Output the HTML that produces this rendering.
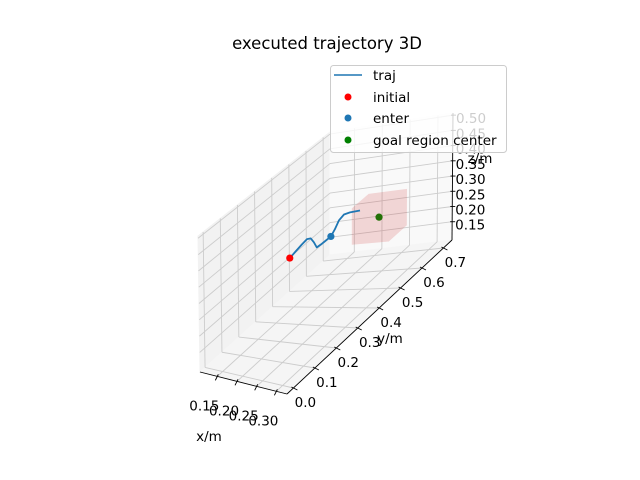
<!DOCTYPE html>
<html><head><meta charset="utf-8">
<style>
body{margin:0;background:#fff;}
svg{display:block;font-family:"DejaVu Sans","Liberation Sans",sans-serif;}
</style></head>
<body>
<svg id="chart" width="640" height="480" viewBox="0 0 640 480">
<rect x="0" y="0" width="640" height="480" fill="#fff"/>
<text x="327" y="49" font-size="16.5" text-anchor="middle" fill="#000">executed trajectory 3D</text>
<g id="panes"></g>
<g id="grid"></g>
<g id="axes"></g>
<g id="series"></g>
<text x="209" y="441" font-size="13.5" text-anchor="middle">x/m</text>
<text x="390" y="343" font-size="13.5" text-anchor="middle">y/m</text>
<text x="480" y="163" font-size="13.5" text-anchor="middle">z/m</text>
<g>
<rect x="330.5" y="65.5" width="176" height="87" rx="3" fill="rgba(255,255,255,0.8)" stroke="#cccccc"/>
<line x1="334" y1="75" x2="362" y2="75" stroke="#1f77b4" stroke-width="1.5"/>
<text x="373" y="80" font-size="13.5">traj</text>
<circle cx="348" cy="97" r="3.5" fill="red"/>
<text x="373" y="102" font-size="13.5">initial</text>
<circle cx="348" cy="118" r="3.5" fill="#1f77b4"/>
<text x="373" y="123" font-size="13.5">enter</text>
<circle cx="348" cy="140" r="3.5" fill="green"/>
<text x="373" y="145" font-size="13.5">goal region center</text>
</g>
</svg>
<script>
const xTicks=[0.15,0.20,0.25,0.30];
const yTicks=[0.0,0.1,0.2,0.3,0.4,0.5,0.6,0.7];
const zTicks=[0.15,0.20,0.25,0.30,0.35,0.40,0.45,0.50];
const xTickLabels=["0.15","0.20","0.25","0.30"];
const yTickLabels=["0.0","0.1","0.2","0.3","0.4","0.5","0.6","0.7"];
const zTickLabels=["0.15","0.20","0.25","0.30","0.35","0.40","0.45","0.50"];
const xRange=[0.106,0.327];
const yRange=[-0.03,0.74];
const zRange=[0.09,0.507];
const trajX=[0.22,0.22,0.22,0.22,0.22,0.22,0.22,0.22,0.22,0.22,0.22,0.22,0.22,0.22,0.22];
const trajY=[0.204,0.236,0.266,0.293,0.313,0.329,0.344,0.366,0.391,0.417,0.438,0.459,0.485,0.516,0.568];
const trajZ=[0.351,0.356,0.361,0.364,0.356,0.335,0.311,0.309,0.308,0.307,0.319,0.336,0.341,0.331,0.309];
const initialPt=[0.22,0.204,0.351];
const enterPt=[0.22,0.417,0.307];
const goalPt=[0.22,0.667,0.232];
const goalHalf=[0.035,0.045,0.06];

const C={p000:[200,372],p100:[287,394],p110:[452,240],p010:[330,255],
         p001:[198,236],p101:[288,254],p111:[453,113],p011:[330,132]};
function lerp(a,b,t){return [a[0]+(b[0]-a[0])*t,a[1]+(b[1]-a[1])*t];}
function PN(u,v,w){
  const b=lerp(lerp(C.p000,C.p100,u),lerp(C.p010,C.p110,u),v);
  const t=lerp(lerp(C.p001,C.p101,u),lerp(C.p011,C.p111,u),v);
  return lerp(b,t,w);
}
function nu(x){return (x-xRange[0])/(xRange[1]-xRange[0]);}
function nv(y){return (y-yRange[0])/(yRange[1]-yRange[0]);}
function nw(z){return (z-zRange[0])/(zRange[1]-zRange[0]);}
function P(x,y,z){return PN(nu(x),nv(y),nw(z));}
const NS="http://www.w3.org/2000/svg";
function mk(tag,attrs,parent){const e=document.createElementNS(NS,tag);for(const k in attrs)e.setAttribute(k,attrs[k]);parent.appendChild(e);return e;}
function pts(a){return a.map(p=>p[0].toFixed(1)+","+p[1].toFixed(1)).join(" ");}
const panes=document.getElementById('panes'),grid=document.getElementById('grid'),axes=document.getElementById('axes'),series=document.getElementById('series');

let e;
e=mk('polygon',{points:pts([PN(0,0,0),PN(0,1,0),PN(0,1,1),PN(0,0,1)]),fill:'#f2f2f2',stroke:'#f2f2f2'},panes);


e=mk('polygon',{points:pts([PN(0,1,0),PN(1,1,0),PN(1,1,1),PN(0,1,1)]),fill:'#f9f9f9',stroke:'#f9f9f9'},panes);


e=mk('polygon',{points:pts([PN(0,0,0),PN(1,0,0),PN(1,1,0),PN(0,1,0)]),fill:'#f5f5f5',stroke:'#f5f5f5'},panes);



function gl(a,b,name){const l=mk('line',{x1:a[0],y1:a[1],x2:b[0],y2:b[1],stroke:'#cccccc','stroke-width':0.9},grid);

}
yTicks.forEach(y=>{const v=nv(y);gl(PN(0,v,0),PN(0,v,1),'grid-y-wall');gl(PN(0,v,0),PN(1,v,0),'grid-y-floor');});
xTicks.forEach(x=>{const u=nu(x);gl(PN(u,1,0),PN(u,1,1),'grid-x-wall');gl(PN(u,0,0),PN(u,1,0),'grid-x-floor');});
zTicks.forEach(z=>{const w=nw(z);gl(PN(0,0,w),PN(0,1,w),'grid-z-yzwall');gl(PN(0,1,w),PN(1,1,w),'grid-z-xzwall');});

function al(a,b,name){const l=mk('line',{x1:a[0],y1:a[1],x2:b[0],y2:b[1],stroke:'#000','stroke-width':0.9},axes);

}
al(PN(0,0,0),PN(1,0,0),'x-axis-line');
al(PN(1,0,0),PN(1,1,0),'y-axis-line');
al(PN(1,1,0),PN(1,1,1),'z-axis-line');
xTicks.forEach((x,i)=>{const p=P(x,yRange[0],zRange[0]);al([p[0]+1,p[1]-2],[p[0]-2,p[1]+4],'x-tick');
 const t=mk('text',{x:p[0]-13,y:p[1]+34,'font-size':13.5,'text-anchor':'middle'},axes);t.textContent=xTickLabels[i];
 
 });
yTicks.forEach((y,i)=>{const p=P(xRange[1],y,zRange[0]);al([p[0]-2,p[1]-1],[p[0]+4,p[1]+2],'y-tick');
 const t=mk('text',{x:p[0]+12,y:p[1]+19,'font-size':13.5,'text-anchor':'middle'},axes);t.textContent=yTickLabels[i];
 
 });
zTicks.forEach((z,i)=>{const p=P(xRange[1],yRange[1],z);al([p[0]-2,p[1]],[p[0]+3,p[1]],'z-tick');
 const t=mk('text',{x:p[0]+3,y:p[1]+8,'font-size':13.5},axes);t.textContent=zTickLabels[i];
 
 });

let g=P(goalPt[0],goalPt[1],goalPt[2]);
e=mk('circle',{cx:g[0],cy:g[1],r:3.6,fill:'green'},series);


const gx=[goalPt[0]-goalHalf[0],goalPt[0]+goalHalf[0]],gy=[goalPt[1]-goalHalf[1],goalPt[1]+goalHalf[1]],gz=[goalPt[2]-goalHalf[2],goalPt[2]+goalHalf[2]];
const faces=[
 [[0,0,0],[1,0,0],[1,1,0],[0,1,0]],[[0,0,1],[1,0,1],[1,1,1],[0,1,1]],
 [[0,0,0],[1,0,0],[1,0,1],[0,0,1]],[[0,1,0],[1,1,0],[1,1,1],[0,1,1]],
 [[0,0,0],[0,1,0],[0,1,1],[0,0,1]],[[1,0,0],[1,1,0],[1,1,1],[1,0,1]]];
faces.forEach(f=>{const p=f.map(c=>P(gx[c[0]],gy[c[1]],gz[c[2]]));
 const pg=mk('polygon',{points:pts(p),fill:'rgba(215,40,40,0.09)'},series);
 
 });
const tp=trajX.map((x,i)=>P(x,trajY[i],trajZ[i]));
e=mk('polyline',{points:pts(tp),fill:'none',stroke:'#1f77b4','stroke-width':1.8,'stroke-linejoin':'round'},series);


g=P(initialPt[0],initialPt[1],initialPt[2]);
e=mk('circle',{cx:g[0],cy:g[1],r:3.6,fill:'red'},series);


g=P(enterPt[0],enterPt[1],enterPt[2]);
e=mk('circle',{cx:g[0],cy:g[1],r:3.6,fill:'#1f77b4'},series);


</script>
</body></html>
